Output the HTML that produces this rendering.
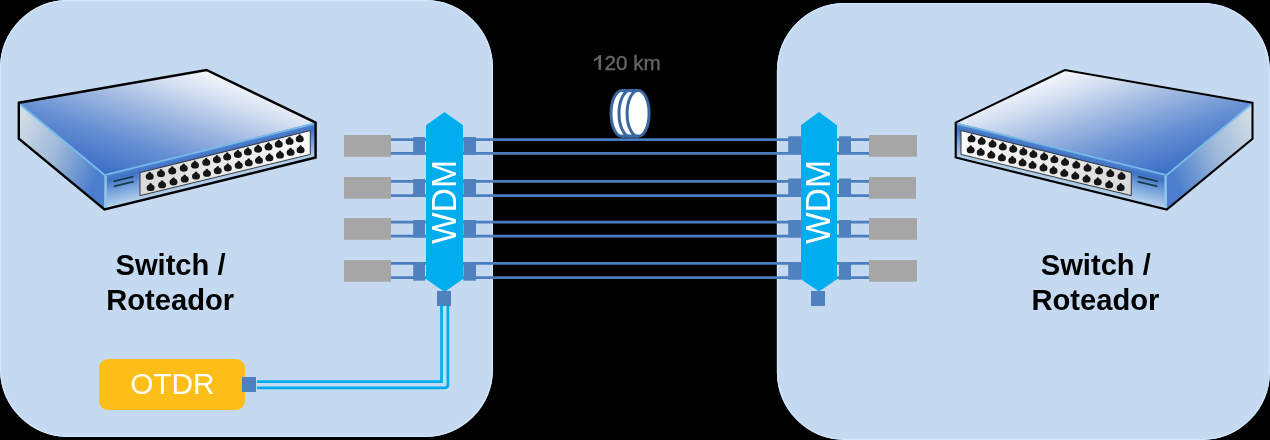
<!DOCTYPE html>
<html><head><meta charset="utf-8">
<style>
html,body{margin:0;padding:0;background:#000;width:1270px;height:440px;overflow:hidden}
svg{display:block;position:absolute;left:0;top:0;will-change:transform}
text{font-family:"Liberation Sans",sans-serif}
</style></head><body>
<svg width="1270" height="440" viewBox="0 0 1270 440">
<defs>
  <linearGradient id="gTop" gradientUnits="userSpaceOnUse" x1="104.5" y1="174" x2="147.5" y2="49.6">
    <stop offset="0" stop-color="#3c6ec5"/>
    <stop offset="0.3" stop-color="#6790d3"/>
    <stop offset="0.55" stop-color="#9bb5e0"/>
    <stop offset="0.8" stop-color="#d0dcf0"/>
    <stop offset="1" stop-color="#f6f8fc"/>
  </linearGradient>
  <linearGradient id="gLeft" gradientUnits="userSpaceOnUse" x1="19" y1="125" x2="104" y2="160">
    <stop offset="0" stop-color="#cfdce6"/>
    <stop offset="0.5" stop-color="#9bb7d8"/>
    <stop offset="1" stop-color="#4b7ecd"/>
  </linearGradient>
  <linearGradient id="gFrontL" gradientUnits="userSpaceOnUse" x1="104.5" y1="175.2" x2="112.6" y2="208.2">
    <stop offset="0" stop-color="#5485d0"/>
    <stop offset="0.15" stop-color="#3f72c5"/>
    <stop offset="0.5" stop-color="#75a0da"/>
    <stop offset="1" stop-color="#bcd8ef"/>
  </linearGradient>
  <linearGradient id="gPanel" gradientUnits="userSpaceOnUse" x1="140" y1="0" x2="310" y2="0">
    <stop offset="0" stop-color="#d9d9d9"/>
    <stop offset="1" stop-color="#fafafa"/>
  </linearGradient>
  <g id="hole">
    <path d="M0,-4.6 C0.9,-4.6 1.3,-3.8 1.4,-3.1 C3.2,-2.6 4,-1.3 4,0.4 C4,2.6 2.2,3.6 0,3.6 C-2.2,3.6 -4,2.6 -4,0.4 C-4,-1.3 -3.2,-2.6 -1.4,-3.1 C-1.3,-3.8 -0.9,-4.6 0,-4.6 Z" fill="#151515"/>
  </g>
  <g id="switch">
    <!-- left face -->
    <polygon points="18.8,102.8 104.5,175.2 104.5,209.5 18.8,138.7" fill="url(#gLeft)"/>
    <!-- top face -->
    <polygon points="18.8,102.8 206.5,70 315.6,122.6 104.5,175.2" fill="url(#gTop)"/>
    <!-- front face -->
    <polygon points="104.5,175.2 315.5,122.5 315.5,157.5 104.5,209.5" fill="url(#gFrontL)"/>
    <!-- highlight edges -->
    <polyline points="19.6,104 104.5,175 314.5,123.6" fill="none" stroke="#76bbea" stroke-width="1.8"/>
    <line x1="105.7" y1="176" x2="105.7" y2="208.5" stroke="#8ec6ee" stroke-width="2.2"/>
    <!-- port panel -->
    <polygon points="140,172.6 310.3,130.6 310.3,154.4 140,195.6" fill="url(#gPanel)" stroke="#2a2a2a" stroke-width="0.9"/>
    <use href="#hole" x="149.75" y="176.25"/><use href="#hole" x="161.00" y="173.50"/><use href="#hole" x="172.25" y="170.90"/><use href="#hole" x="183.75" y="168.10"/><use href="#hole" x="195.00" y="165.00"/><use href="#hole" x="206.25" y="162.25"/><use href="#hole" x="216.90" y="159.60"/><use href="#hole" x="227.20" y="156.90"/><use href="#hole" x="237.90" y="154.40"/><use href="#hole" x="247.90" y="151.90"/><use href="#hole" x="258.10" y="149.10"/><use href="#hole" x="268.50" y="146.90"/><use href="#hole" x="278.75" y="144.10"/><use href="#hole" x="289.60" y="141.25"/><use href="#hole" x="299.75" y="138.75"/><use href="#hole" x="150.60" y="187.50"/><use href="#hole" x="162.10" y="184.75"/><use href="#hole" x="173.50" y="181.90"/><use href="#hole" x="184.75" y="179.00"/><use href="#hole" x="196.00" y="176.00"/><use href="#hole" x="207.00" y="173.25"/><use href="#hole" x="217.75" y="170.60"/><use href="#hole" x="227.80" y="167.80"/><use href="#hole" x="238.75" y="165.25"/><use href="#hole" x="248.75" y="162.75"/><use href="#hole" x="259.00" y="160.25"/><use href="#hole" x="269.40" y="157.75"/><use href="#hole" x="280.00" y="155.00"/><use href="#hole" x="290.60" y="152.25"/><use href="#hole" x="300.60" y="149.75"/>
    <!-- vents -->
    <line x1="113.5" y1="181.3" x2="133.3" y2="176.7" stroke="#173a4c" stroke-width="1.7"/>
    <line x1="113.8" y1="186.3" x2="133.6" y2="181.7" stroke="#173a4c" stroke-width="1.7"/>
    <!-- outline -->
    <polygon points="18.8,102.8 206.5,70 315.6,122.6 315.6,157.5 104.5,209.5 18.8,138.7" fill="none" stroke="#000" stroke-linejoin="miter"/>
  </g>
</defs>

<!-- panels -->
<rect x="0" y="0" width="493" height="437" rx="68" ry="68" fill="#c5daf0"/>
<rect x="776.9" y="2.9" width="493" height="437" rx="68" ry="68" fill="#c5daf0"/>
<rect x="0.6" y="0.6" width="491.8" height="435.8" rx="67.4" ry="67.4" fill="none" stroke="#d3e7fe" stroke-width="1.2"/>
<rect x="777.5" y="3.5" width="491.8" height="435.8" rx="67.4" ry="67.4" fill="none" stroke="#d3e7fe" stroke-width="1.2"/>

<!-- switches -->
<use href="#switch" stroke-width="2.4"/>
<use href="#switch" stroke-width="2.1" transform="translate(1271.3,0) scale(-1,1)"/>

<!-- left side fibers -->
<g stroke="#4a7ebf" stroke-width="2.7">
  <line x1="391" y1="139.6" x2="426" y2="139.6"/><line x1="391" y1="153.4" x2="426" y2="153.4"/>
  <line x1="391" y1="181.4" x2="426" y2="181.4"/><line x1="391" y1="195.6" x2="426" y2="195.6"/>
  <line x1="391" y1="222.2" x2="426" y2="222.2"/><line x1="391" y1="236.1" x2="426" y2="236.1"/>
  <line x1="391" y1="263.4" x2="426" y2="263.4"/><line x1="391" y1="277.6" x2="426" y2="277.6"/>
  <!-- long -->
  <line x1="463" y1="139.6" x2="801" y2="139.6"/><line x1="463" y1="153.4" x2="801" y2="153.4"/>
  <line x1="463" y1="181.4" x2="801" y2="181.4"/><line x1="463" y1="195.6" x2="801" y2="195.6"/>
  <line x1="463" y1="222.2" x2="801" y2="222.2"/><line x1="463" y1="236.1" x2="801" y2="236.1"/>
  <line x1="463" y1="263.4" x2="801" y2="263.4"/><line x1="463" y1="277.6" x2="801" y2="277.6"/>
  <!-- right side -->
  <line x1="837" y1="139.6" x2="870" y2="139.6"/><line x1="837" y1="153.4" x2="870" y2="153.4"/>
  <line x1="837" y1="181.4" x2="870" y2="181.4"/><line x1="837" y1="195.6" x2="870" y2="195.6"/>
  <line x1="837" y1="222.2" x2="870" y2="222.2"/><line x1="837" y1="236.1" x2="870" y2="236.1"/>
  <line x1="837" y1="263.4" x2="870" y2="263.4"/><line x1="837" y1="277.6" x2="870" y2="277.6"/>
</g>

<!-- gray transceivers -->
<g fill="#a6a6a6">
  <rect x="344" y="135" width="47" height="21.8"/>
  <rect x="344" y="177" width="47" height="21.8"/>
  <rect x="344" y="218.1" width="47" height="21.7"/>
  <rect x="344" y="260.1" width="47" height="21.6"/>
  <rect x="869" y="135" width="48" height="21.8"/>
  <rect x="869" y="177" width="47" height="21.8"/>
  <rect x="869" y="218.1" width="48" height="21.7"/>
  <rect x="869" y="260.1" width="48" height="21.6"/>
</g>

<!-- connectors -->
<g fill="#5081bf">
  <rect x="413.2" y="137" width="11.8" height="17.7"/>
  <rect x="413.2" y="179" width="11.8" height="17.8"/>
  <rect x="413.2" y="220" width="11.8" height="17.7"/>
  <rect x="413.2" y="262.5" width="11.8" height="18.2"/>
  <rect x="463.4" y="137" width="12.6" height="17.7"/>
  <rect x="463.4" y="179" width="12.6" height="17.8"/>
  <rect x="463.4" y="220" width="12.6" height="17.7"/>
  <rect x="463.4" y="262.5" width="12.6" height="18.2"/>
  <rect x="788.2" y="136.3" width="12.8" height="18"/>
  <rect x="788.2" y="178.5" width="12.8" height="17.8"/>
  <rect x="788.2" y="220" width="12.8" height="17.5"/>
  <rect x="788.2" y="262" width="12.8" height="17.8"/>
  <rect x="839" y="136.3" width="12" height="18"/>
  <rect x="839" y="178.5" width="12" height="17.8"/>
  <rect x="839" y="220" width="12" height="17.5"/>
  <rect x="839" y="262" width="12" height="17.8"/>
</g>

<!-- WDM -->
<polygon points="426,125.2 444.5,112 463,125.2 463,279 444.5,292 426,279" fill="#00aeef"/>
<polygon points="801,125.2 819,112 837,125.2 837,279.3 819,291.5 801,279.3" fill="#00aeef"/>
<text transform="translate(456.2,202.1) rotate(-90) scale(0.961,1)" text-anchor="middle" font-size="35" fill="#fff">WDM</text>
<text transform="translate(830.3,202.1) rotate(-90) scale(0.961,1)" text-anchor="middle" font-size="35" fill="#fff">WDM</text>

<!-- re-draw bottom squares on top of WDM -->
<rect x="437" y="291" width="14" height="15" fill="#5081bf"/>
<rect x="811" y="291" width="14" height="15" fill="#5081bf"/>

<!-- OTDR fiber -->
<g fill="none" stroke="#00aeef" stroke-width="2.8">
  <path d="M257,381.7 H441.5 V306"/>
  <path d="M257,387.8 H444.9 Q447.9,387.8 447.9,384.8 V306"/>
</g>

<!-- OTDR -->
<rect x="99" y="359" width="146" height="51" rx="9" ry="9" fill="#fdbe1a"/>
<rect x="242" y="377" width="14" height="15" fill="#5081bf"/>
<text transform="translate(172.4,393.9)" text-anchor="middle" font-size="29.8" fill="#fff">OTDR</text>

<!-- spool -->
<g fill="#fff" stroke="#3a67a2" stroke-width="3">
  <ellipse cx="622" cy="113.4" rx="11" ry="22.9"/>
  <ellipse cx="630" cy="113.4" rx="11" ry="22.9"/>
  <ellipse cx="638.1" cy="113.4" rx="11" ry="22.9"/>
  <path d="M622,90.5 H638.1 M622,136.3 H638.1" fill="none"/>
</g>
<path d="M601.1,69.8 L601.1,55 L599.3,55 Q598.2,57.5 593.9,59.5 L593.9,61.3 Q596.8,60.3 598.5,58.4 L598.5,69.8 Z" fill="#666"/>
<text x="604.5" y="69.8" font-size="20.7" fill="#666" stroke="#666" stroke-width="0.35">20 km</text>

<!-- labels -->
<g font-weight="bold" font-size="30.2" fill="#000" text-anchor="middle">
  <text transform="translate(170.5,274.7) scale(0.965,1)">Switch /</text>
  <text transform="translate(170.2,310) scale(0.965,1)">Roteador</text>
  <text transform="translate(1095.8,274.7) scale(0.965,1)">Switch /</text>
  <text transform="translate(1095.4,310) scale(0.965,1)">Roteador</text>
</g>
</svg>
</body></html>
